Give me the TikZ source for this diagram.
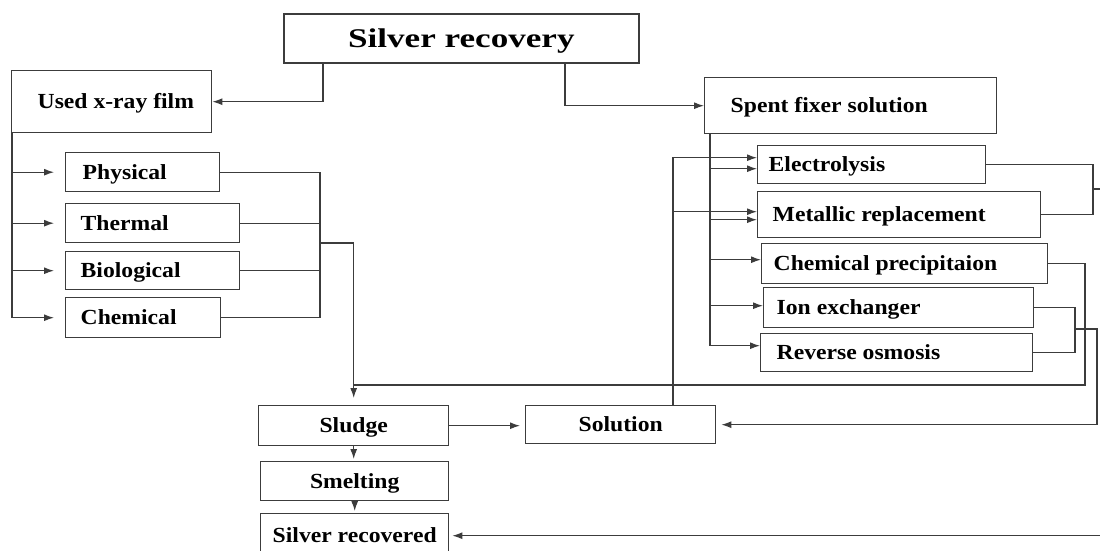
\documentclass[tikz,border=0pt]{standalone}
\usepackage{fontspec}
\setmainfont{Liberation Serif}
\newfontfamily\labfam[FakeStretch=1.1]{Liberation Serif}
\newfontfamily\titfam[FakeStretch=1.3]{Liberation Serif}
\usetikzlibrary{arrows.meta,calc}
\definecolor{linec}{RGB}{60,60,60}
\newcommand{\boxtxt}[2]{\makebox[#1pt][l]{#2}}
\begin{document}
\begin{tikzpicture}[x=1pt,y=-1pt,
 bx/.style={draw=linec, line width=1.4pt, anchor=north west, inner ysep=0pt,
   text height=14pt, text depth=0pt,
   font=\labfam\bfseries\fontsize{21.5}{24}\selectfont},
 conn/.style={draw=linec, line width=1.2pt},
 arr/.style={conn, -{Latex[length=10pt,width=7pt]}},
]
\useasboundingbox (0,0) rectangle (1100,550);
\clip (0,0) rectangle (1100,550);
\fill[white] (0,0) rectangle (1100,550);

% title
\node[bx, line width=1.7pt, minimum width=355pt, minimum height=49pt, inner xsep=0pt,
  text height=18pt, text depth=0pt,
  font=\titfam\bfseries\fontsize{27}{30}\selectfont] (title) at (283,13) {Silver recovery};

% left branch
\node[bx, minimum height=62pt, inner xsep=26pt] (film) at (11,70) {\boxtxt{148}{Used x-ray film}};
\node[bx, minimum height=39pt, inner xsep=17pt] (physical) at (65,152) {\boxtxt{120}{Physical}};
\node[bx, minimum height=39pt, inner xsep=15pt] (thermal) at (65,203) {\boxtxt{144}{Thermal}};
\node[bx, minimum height=38pt, inner xsep=15pt] (biological) at (65,251) {\boxtxt{144}{Biological}};
\node[bx, minimum height=40pt, inner xsep=15pt] (chemical) at (65,297) {\boxtxt{125}{Chemical}};

% right branch
\node[bx, minimum height=56pt, inner xsep=26pt] (spent) at (704,77) {\boxtxt{240}{Spent fixer solution}};
\node[bx, minimum height=38pt, inner xsep=11pt] (electrolysis) at (757,145) {\boxtxt{206}{Electrolysis}};
\node[bx, minimum height=46pt, inner xsep=15pt] (metallic) at (757,191) {\boxtxt{253}{Metallic replacement}};
\node[bx, minimum height=40pt, inner xsep=12pt] (chemprec) at (761,243) {\boxtxt{262}{Chemical precipitaion}};
\node[bx, minimum height=40pt, inner xsep=13pt] (ion) at (763,287) {\boxtxt{244}{Ion exchanger}};
\node[bx, minimum height=38pt, inner xsep=16pt] (ro) at (760,333) {\boxtxt{240}{Reverse osmosis}};

% bottom
\node[bx, minimum width=190pt, minimum height=40pt, inner xsep=0pt] (sludge) at (258,405) {Sludge};
\node[bx, minimum width=190pt, minimum height=38pt, inner xsep=0pt] (solution) at (525,405) {Solution};
\node[bx, minimum width=188pt, minimum height=39pt, inner xsep=0pt] (smelting) at (260,461) {Smelting};
\node[bx, minimum width=188pt, minimum height=44pt, inner xsep=0pt] (silverrec) at (260,513) {Silver recovered};

% title connectors
\draw[arr] ($(title.south west)+(40,0)$) |- (film.east);
\draw[arr] ($(title.south west)+(282,0)$) |- (spent.west);

% left tree
\foreach \n in {physical,thermal,biological,chemical}
  \draw[arr, shorten >=11pt] ($(film.south west)+(1,0)$) |- (\n.west);

\coordinate (lj) at (320,243);
\draw[conn] (physical.east) -| (lj);
\draw[conn] (chemical.east) -| (lj);
\draw[conn] (thermal.east) -- (thermal.east -| lj);
\draw[conn] (biological.east) -- (biological.east -| lj);
\draw[arr, shorten >=7pt] (lj) -| (sludge.north);

% chemical precipitation to sludge
\coordinate (cpj) at (1085,385);
\draw[conn] (chemprec.east) -| (cpj) -- (cpj -| sludge.north);

% ion exchanger / reverse osmosis to solution
\coordinate (irj) at (1075,329);
\draw[conn] (ion.east) -| (irj);
\draw[conn] (ro.east) -| (irj);
\coordinate (irk) at (1097,329);
\draw[arr, shorten >=5pt] (irj) -- (irk) |- (solution.east);

% electrolysis / metallic to silver recovered
\coordinate (emj) at (1093,189);
\draw[conn] (electrolysis.east) -| (emj);
\draw[conn] (metallic.east) -| (emj);
\coordinate (emk) at (1106,189);
\draw[arr, shorten >=3pt] (emj) -- (emk) |- (silverrec.east);

% spent fixer tree
\coordinate (sv) at ($(spent.south west)+(6,0)$);
\draw[arr] (sv) |- ([yshift=-4pt]electrolysis.west);
\draw[arr] (sv) |- ([yshift=-5pt]metallic.west);
\draw[arr] (sv) |- ([yshift=4pt]chemprec.west);
\draw[arr] (sv) |- ([yshift=2pt]ion.west);
\draw[arr] (sv) |- ([yshift=7pt]ro.west);

% solution back to electrolysis / metallic
\coordinate (sov) at ($(solution.north west)+(148,0)$);
\draw[arr] (sov) |- ([yshift=7pt]electrolysis.west);
\draw[arr] (sov) |- ([yshift=3pt]metallic.west);

% bottom chain
\draw[arr, shorten >=5pt] (sludge.east) -- (sludge.east -| solution.west);
\draw[arr, shorten >=2pt] (sludge.south) -- (sludge.south |- smelting.north);
\draw[arr, shorten >=2pt] (smelting.south) -- (smelting.south |- silverrec.north);
\end{tikzpicture}
\end{document}
